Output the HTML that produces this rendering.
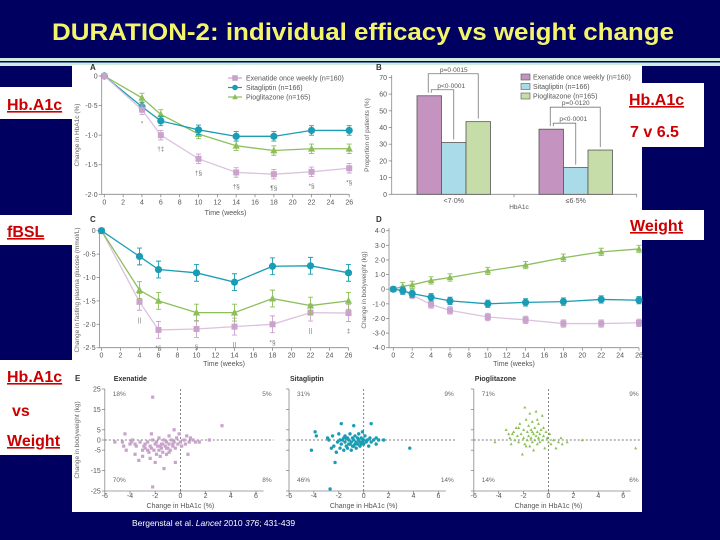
<!DOCTYPE html>
<html><head><meta charset="utf-8"><style>
html,body{margin:0;padding:0;background:#000060;}
svg{display:block;font-family:"Liberation Sans",sans-serif;}
</style></head><body>
<svg id="s" width="720" height="540" viewBox="0 0 720 540">
<rect x="0" y="0" width="720" height="540" fill="#000060"/>
<text x="363" y="40" text-anchor="middle" font-size="24" font-weight="bold" fill="#f4f46a" textLength="622" lengthAdjust="spacingAndGlyphs">DURATION-2: individual efficacy vs weight change</text>
<rect x="0" y="58" width="720" height="8" fill="#cdeedd"/>
<rect x="0" y="61" width="720" height="1.5" fill="#000060"/>
<rect x="72" y="65" width="570" height="447" fill="#ffffff"/>
<g><rect x="0" y="87" width="72" height="32" fill="#fff"/><text x="7" y="110" font-size="16" font-weight="bold" fill="#cc0000" text-decoration="underline">Hb.A1c</text></g>
<g><rect x="0" y="215" width="72" height="30" fill="#fff"/><text x="7" y="237" font-size="16" font-weight="bold" fill="#cc0000" text-decoration="underline">fBSL</text></g>
<g><rect x="0" y="360" width="72" height="95" fill="#fff"/><text x="7" y="382" font-size="16" font-weight="bold" fill="#cc0000" text-decoration="underline">Hb.A1c</text><text x="12" y="416" font-size="16" font-weight="bold" fill="#cc0000">vs</text><text x="7" y="446" font-size="16" font-weight="bold" fill="#cc0000" text-decoration="underline">Weight</text></g>
<g><rect x="642" y="83" width="62" height="64" fill="#fff"/><text x="629" y="105" font-size="16" font-weight="bold" fill="#cc0000" text-decoration="underline">Hb.A1c</text><text x="630" y="137" font-size="16" font-weight="bold" fill="#cc0000">7 v 6.5</text></g>
<g><rect x="642" y="210" width="62" height="30" fill="#fff"/><text x="630" y="231" font-size="16" font-weight="bold" fill="#cc0000" text-decoration="underline">Weight</text></g>
<text x="132" y="526" font-size="8.5" fill="#fff">Bergenstal et al. <tspan font-style="italic">Lancet</tspan> 2010 <tspan font-style="italic">376</tspan>; 431-439</text>
<g id="charts"></g>
</svg>
<script>
// ---- data ----
const weeksA = [0,4,6,10,14,18,22,26];
const exenA = [0,-0.57,-1.0,-1.4,-1.63,-1.66,-1.62,-1.56];
const sitaA = [0,-0.52,-0.76,-0.91,-1.02,-1.02,-0.92,-0.92];
const pioA  = [0,-0.37,-0.65,-0.98,-1.18,-1.26,-1.23,-1.23];
const errA = [0.08,0.08,0.08];
const bCategories = ["<7·0%","≤6·5%"];
const exenB = [59,39];
const sitaB = [31,16];
const pioB  = [43.5,26.5];
const weeksC = [0,4,6,10,14,18,22,26];
const exenC = [0,-1.52,-2.12,-2.1,-2.05,-2.0,-1.75,-1.76];
const sitaC = [0,-0.55,-0.83,-0.9,-1.1,-0.76,-0.75,-0.9];
const pioC  = [0,-1.27,-1.5,-1.75,-1.75,-1.45,-1.6,-1.5];
const errC = [0.18,0.18,0.18];
const weeksD = [0,1,2,4,6,10,14,18,22,26];
const exenD = [0,-0.1,-0.4,-1.05,-1.45,-1.9,-2.1,-2.35,-2.35,-2.3];
const sitaD = [0,-0.1,-0.3,-0.55,-0.8,-1.0,-0.9,-0.85,-0.7,-0.75];
const pioD  = [0,0.2,0.3,0.6,0.8,1.25,1.65,2.15,2.55,2.75];
const errD = [0.25,0.25,0.25];
const ticksAy = ["0","-0·5","-1·0","-1·5","-2·0"];
const ticksCy = ["0","-0·5","-1·0","-1·5","-2·0","-2·5"];
const ticksDy = ["4·0","3·0","2·0","1·0","0","-1·0","-2·0","-3·0","-4·0"];
const ticksBy = [0,10,20,30,40,50,60,70];
const ticksEy = [25,15,5,0,-5,-15,-25];
const ticksEx = [-6,-4,-2,0,2,4,6];
const exenE = [[-5.2,-1],[-4.6,-1],[-4.4,3],[-4.3,-5],[-4,-2],[-3.8,0],[-3.6,-7],[-3.5,-3],[-3.3,-10],[-3.2,-1],[-3,-5],[-3,-8],[-2.8,-4],[-2.8,-2],[-2.6,-1],[-2.5,-6],[-2.4,-9],[-2.4,-3],[-2.3,3],[-2.2,21],[-2.2,-23],[-2.2,0],[-2.1,-5],[-2,-2],[-2,-11],[-1.9,-7],[-1.8,-3],[-1.7,1],[-1.7,-5],[-1.6,-8],[-1.5,-2],[-1.5,-4],[-1.4,-6],[-1.3,-14],[-1.3,0],[-1.2,-3],[-1.1,-7],[-1.1,-1],[-1,-4],[-0.9,2],[-0.9,-2],[-0.8,-5],[-0.7,0],[-0.6,-3],[-0.5,5],[-0.5,-1],[-0.4,-11],[-0.4,-4],[-0.3,1],[-0.2,-2],[-0.1,3],[0,-1],[0.1,-3],[0.3,0],[0.4,-2],[0.5,2],[0.6,-7],[0.7,-1],[0.8,1],[1,0],[1.2,-1],[1.5,-1],[2.3,0],[3.3,7],[-3.6,-2],[-2.9,-3],[-2.6,-5],[-1.9,-1],[-1.4,-2],[-0.9,-6],[-2.3,-4],[-1.6,-3],[-1.1,-4],[-0.6,-2],[-3.9,-1],[-4.5,-3]];
const sitaE = [[-4.2,-5],[-3.9,4],[-3.8,2],[-2.9,1],[-2.8,0],[-2.7,-24],[-2.5,2],[-2.4,-3],[-2.3,-11],[-2.2,-6],[-2.1,-1],[-2,3],[-1.9,-4],[-1.8,8],[-1.8,-2],[-1.7,0],[-1.6,-5],[-1.5,2],[-1.5,-1],[-1.4,-3],[-1.3,1],[-1.3,-4],[-1.2,0],[-1.1,-2],[-1.1,3],[-1,-1],[-1,-5],[-0.9,1],[-0.9,-3],[-0.8,7],[-0.8,0],[-0.7,-2],[-0.7,2],[-0.6,-1],[-0.6,-4],[-0.5,1],[-0.5,-2],[-0.4,0],[-0.4,3],[-0.3,-1],[-0.3,-3],[-0.2,1],[-0.1,4],[-0.1,-1],[0,0],[0,-2],[0.1,2],[0.2,-1],[0.3,0],[0.4,-3],[0.5,1],[0.6,8],[0.6,-1],[0.8,0],[1,-2],[1,1],[1.2,0],[1.6,0],[3.7,-4],[-1.9,0],[-1.4,1],[-1.2,-2],[-0.8,-3],[-0.2,-2],[-1.6,1],[-2.6,-4]];
const pioE = [[-4.3,-1],[-3.4,5],[-3.2,3],[-3.1,1],[-3,-2],[-2.8,4],[-2.6,6],[-2.5,2],[-2.4,-1],[-2.3,8],[-2.2,3],[-2.1,-7],[-2,5],[-2,1],[-1.9,16],[-1.9,-2],[-1.8,10],[-1.7,4],[-1.7,0],[-1.6,7],[-1.6,2],[-1.5,13],[-1.5,-3],[-1.4,5],[-1.4,1],[-1.3,9],[-1.3,-1],[-1.2,3],[-1.2,-5],[-1.1,6],[-1.1,0],[-1,14],[-1,2],[-0.9,4],[-0.9,-2],[-0.8,8],[-0.8,1],[-0.7,3],[-0.7,-1],[-0.6,5],[-0.5,12],[-0.5,0],[-0.4,2],[-0.3,-4],[-0.2,4],[-0.1,1],[0,-1],[0.1,3],[0.2,-2],[0.4,0],[0.6,-4],[0.8,-1],[1,1],[1.1,-2],[1.5,-1],[2.7,0],[7,-4],[-2.7,0],[-2.4,6],[-1.8,-3],[-1.3,4],[-0.9,10],[-2.9,3],[-0.4,6]];
const pctE = [["18%","5%","70%","8%"],["31%","9%","46%","14%"],["71%","9%","14%","6%"]];

// ---- helpers ----
const NS="http://www.w3.org/2000/svg";
const root=document.getElementById('charts');
function mk(tag,attrs,parent){const e=document.createElementNS(NS,tag);for(const k in attrs)e.setAttribute(k,attrs[k]);(parent||root).appendChild(e);return e;}
function txt(x,y,s,size,anchor,parent,fill){const e=mk('text',{x:x,y:y,'font-size':size,'text-anchor':anchor||'start',fill:fill||'#555'},parent);e.textContent=s;return e;}
const EX='#c9a3cc', EXL='#dcc2de', SI='#1b9cb5', PI='#8cbf5a';

function marker(kind,x,y,s,color,parent){
  let m;
  if(kind==='sq') m=mk('rect',{x:x-s,y:y-s,width:2*s,height:2*s,fill:color},parent);
  else if(kind==='ci') m=mk('circle',{cx:x,cy:y,r:s,fill:color},parent);
  else m=mk('polygon',{points:`${x},${y-s*1.1} ${x-s},${y+s*0.8} ${x+s},${y+s*0.8}`,fill:color},parent);
  return m;
}
function series(xs,ys,sx,sy,color,lc,kind,s,err,name){
  const g=mk('g',{});
  
  
  const pl=mk('polyline',{points:xs.map((t,i)=>sx(t)+','+sy(ys[i])).join(' '),fill:'none',stroke:lc,'stroke-width':1.3},g);
  
  
  xs.forEach((t,i)=>{
    if(i>0){
      const x=sx(t),y1=sy(ys[i]+err),y2=sy(ys[i]-err);
      const eb=mk('path',{d:`M${x},${y1}V${y2}M${x-2.5},${y1}h5M${x-2.5},${y2}h5`,stroke:color,'stroke-width':0.9,fill:'none'},g);
      
      
    }
    const m=marker(kind,sx(t),sy(ys[i]),s,color,g);
    
    
  });
}
function axes(x0,x1,yTop,yBot,xt,sx,yl,sy,yvals,name,xlab,xlabY){
  const g=mk('g',{});
  
  
  const ax=mk('path',{d:`M${x0},${yTop}V${yBot}H${x1}`,stroke:'#888','stroke-width':0.8,fill:'none'},g);
  
  
  xt.forEach(t=>{
    const tk=mk('path',{d:`M${sx(t)},${yBot}v3`,stroke:'#888','stroke-width':0.8},g);
    
    
    const tl=txt(sx(t),yBot+10,String(t),7,'middle',g);
    
    
  });
  yl.forEach((l,i)=>{
    const y=sy(yvals[i]);
    const tk=mk('path',{d:`M${x0-3},${y}h3`,stroke:'#888','stroke-width':0.8},g);
    
    
    const tl=txt(x0-4,y+2.5,l,7,'end',g);
    
    
  });
  const xl=txt((x0+x1)/2,xlabY,xlab,7,'middle',g);
  
  
}
function ytitle(x,y,s,name){const t=txt(x,y,s,6.5,'middle',null,'#666');t.setAttribute('transform',`rotate(-90 ${x} ${y})`);}
function lab(x,y,s,name){const t=txt(x,y,s,8,'start',null,'#333');t.setAttribute('font-weight','bold');}
const wk=[0,2,4,6,8,10,12,14,16,18,20,22,24,26];

// ---- Panel A ----
const ax_=t=>104.3+t*9.42, ay=v=>76-v*59.15;
lab(90,70,'A','panel-a-label');
axes(101.7,349.3,74,194.3,wk,ax_,ticksAy,ay,[0,-0.5,-1,-1.5,-2],'panel-a-axes','Time (weeks)',215);
ytitle(79,135,'Change in HbA1c (%)','panel-a-y-title');
series(weeksA,pioA,ax_,ay,PI,PI,'tr',3.6,errA[2],'pio-a');
series(weeksA,sitaA,ax_,ay,SI,SI,'ci',3.6,errA[1],'sita-a');
series(weeksA,exenA,ax_,ay,EX,EXL,'sq',3,errA[0],'exen-a');
[['Exenatide once weekly (n=160)',EX,'sq'],['Sitagliptin (n=166)',SI,'ci'],['Pioglitazone (n=165)',PI,'tr']].forEach((d,i)=>{
  const g=mk('g',{});
  
  
  const y=78+i*9.5;
  mk('path',{d:`M228,${y}h14`,stroke:d[1],'stroke-width':1.2},g);
  marker(d[2],235,y,2.8,d[1],g);
  txt(246,y+2.5,d[0],7,'start',g);
});
[['*',4,-0.57],['†‡',6,-1.0],['†§',10,-1.4],['†§',14,-1.63],['¶§',18,-1.66],['*§',22,-1.62],['*§',26,-1.56]].forEach(d=>{
  const t=txt(ax_(d[1]),ay(d[2])+16,d[0],6.5,'middle',null,'#777');
  
  
});

// ---- Panel B ----
const by=v=>194.3-v*1.67;
lab(376,70,'B','panel-b-label');
{
  const g=mk('g',{});
  
  
  mk('path',{d:`M391.7,75V194.3H636.7M514,194.3v3M636.7,194.3v3`,stroke:'#888','stroke-width':0.8,fill:'none'},g);
  ticksBy.forEach(v=>{mk('path',{d:`M388.7,${by(v)}h3`,stroke:'#888','stroke-width':0.8},g);txt(387,by(v)+2.5,String(v),7,'end',g);});
  txt(519,209,'HbA1c',6.5,'middle',g);
}
ytitle(369,135,'Proportion of patients (%)','panel-b-y-title');
const groupX=[417,539], bw=24.5;
bCategories.forEach((c,gi)=>{
  const vals=[exenB[gi],sitaB[gi],pioB[gi]], cols=['#c493c0','#a9dbe8','#c7dda9'], nm=['exen','sita','pio'];
  vals.forEach((v,j)=>{
    const r=mk('rect',{x:groupX[gi]+j*bw,y:by(v),width:bw,height:by(0)-by(v),fill:cols[j],stroke:'#555','stroke-width':0.8});
    
    
  });
  const cl=txt(groupX[gi]+bw*1.5,203,c,7,'middle');
  
  
  const cx=j=>groupX[gi]+j*bw+bw/2;
  const top=Math.max(vals[0],vals[2]);
  const h1=by(top)-22, h2=by(vals[0])-6;
  const br=mk('path',{d:`M${cx(0)-1},${by(vals[0])-3}V${h1}H${cx(2)}V${by(vals[2])-3}M${cx(0)+2},${by(vals[0])-3}V${h2+0}H${cx(1)}V${by(vals[1])-3}`,stroke:'#777','stroke-width':0.8,fill:'none'});
  
  
  const p1=txt((cx(0)+cx(2))/2,h1-2,gi?'p=0·0120':'p=0·0015',6.5,'middle');
  
  
  const p2=txt(cx(0)+22,h2-2,'p<0·0001',6.5,'middle');
  
  
});
[['Exenatide once weekly (n=160)','#c493c0'],['Sitagliptin (n=166)','#a9dbe8'],['Pioglitazone (n=165)','#c7dda9']].forEach((d,i)=>{
  const g=mk('g',{});
  
  
  const y=77+i*9.5;
  mk('rect',{x:521,y:y-3,width:9,height:6,fill:d[1],stroke:'#555','stroke-width':0.6},g);
  txt(533,y+2.5,d[0],7,'start',g);
});

// ---- Panel C ----
const cxs=t=>101.5+t*9.5, cy=v=>230.7-v*46.8;
lab(90,222,'C','panel-c-label');
axes(99.6,348.5,228,347.7,wk,cxs,ticksCy,cy,[0,-0.5,-1,-1.5,-2,-2.5],'panel-c-axes','Time (weeks)',366);
ytitle(79,290,'Change in fasting plasma glucose (mmol/L)','panel-c-y-title');
series(weeksC,exenC,cxs,cy,EX,EXL,'sq',3,errC[0],'exen-c');
series(weeksC,pioC,cxs,cy,PI,PI,'tr',3.6,errC[2],'pio-c');
series(weeksC,sitaC,cxs,cy,SI,SI,'ci',3.6,errC[1],'sita-c');
[['||',4,-1.52],['*§',6,-2.12],['§',10,-2.1],['||',14,-2.05],['*§',18,-2.0],['||',22,-1.75],['‡',26,-1.76]].forEach(d=>{
  const t=txt(cxs(d[1]),cy(d[2])+20,d[0],6.5,'middle',null,'#777');
  
  
});

// ---- Panel D ----
const dxs=t=>393.3+t*9.45, dy=v=>289.2-v*14.625;
lab(376,222,'D','panel-d-label');
axes(389,639,228,347.7,wk,dxs,ticksDy,dy,[4,3,2,1,0,-1,-2,-3,-4],'panel-d-axes','Time (weeks)',366);
ytitle(366,290,'Change in bodyweight (kg)','panel-d-y-title');
series(weeksD,pioD,dxs,dy,PI,PI,'tr',3.3,errD[2],'pio-d');
series(weeksD,exenD,dxs,dy,EX,EXL,'sq',3,errD[0],'exen-d');
series(weeksD,sitaD,dxs,dy,SI,SI,'ci',3.6,errD[1],'sita-d');

// ---- Panel E ----
const ey=v=>440-v*2.04;
const exs=[v=>180.4+v*12.6, v=>363.7+v*12.45, v=>548.5+v*12.45];
const eData=[exenE,sitaE,pioE], eNames=['Exenatide','Sitagliptin','Pioglitazone'], eCols=[EX,SI,PI], eKinds=['sq','ci','tr'], eSz=[1.6,1.7,1.5];
lab(75,381,'E','panel-e-label');
eData.forEach((pts,k)=>{
  const sx=exs[k], x0=sx(-6), xr=sx(7.4);
  const g=mk('g',{});
  
  
  const t=txt(k?x0+1:x0+9,381,eNames[k],7,'start',g,'#333');
  t.setAttribute('font-weight','bold');
  mk('path',{d:`M${x0},${ey(25)}V${ey(-25)}H${sx(6.6)}`,stroke:'#888','stroke-width':0.8,fill:'none'},g);
  ticksEy.forEach(v=>{mk('path',{d:`M${x0-3},${ey(v)}h3`,stroke:'#888','stroke-width':0.8},g);if(k===0)txt(x0-4,ey(v)+2.5,String(v),7,'end',g);});
  ticksEx.forEach(v=>{mk('path',{d:`M${sx(v)},${ey(-25)}v3`,stroke:'#888','stroke-width':0.8},g);txt(sx(v),498,String(v),7,'middle',g);});
  txt(sx(0),508,'Change in HbA1c (%)',7,'middle',g);
  mk('path',{d:`M${x0},${ey(0)}H${xr}M${sx(0)},${ey(25)}V${ey(-25)}`,stroke:'#555','stroke-width':0.7,'stroke-dasharray':'2,2',fill:'none'},g);
  const p=pctE[k];
  txt(x0+8,396,p[0],6.5,'start',g,'#666');txt(xr-2,396,p[1],6.5,'end',g,'#666');
  txt(x0+8,482,p[2],6.5,'start',g,'#666');txt(xr-2,482,p[3],6.5,'end',g,'#666');
  pts.forEach(d=>{
    const m=marker(eKinds[k],sx(d[0]),ey(d[1]),eSz[k],eCols[k],g);
    
    
  });
});
ytitle(79,440,'Change in bodyweight (kg)','panel-e-y-title');
</script>
</body></html>
